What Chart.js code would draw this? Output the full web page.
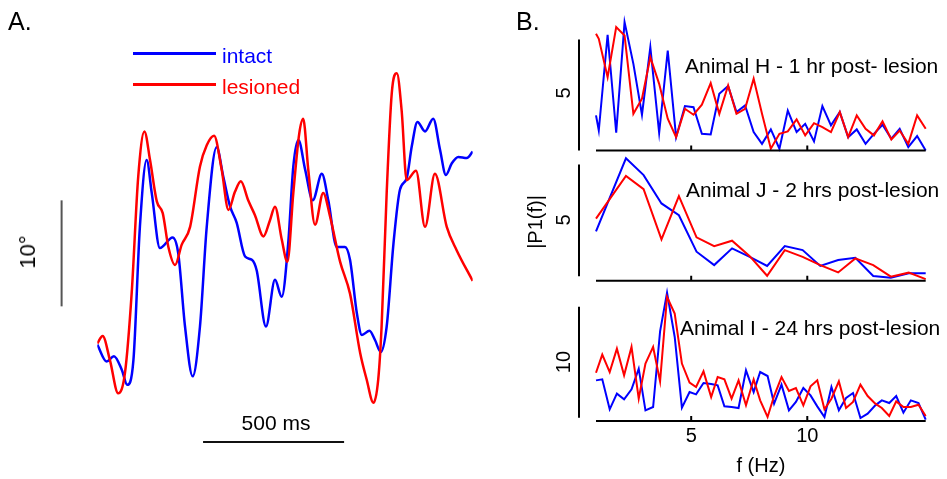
<!DOCTYPE html>
<html lang="en">
<head>
  <meta charset="UTF-8" />
  <title>Head angle traces and spectra</title>
  <script src="https://cdn.jsdelivr.net/npm/chart.js"></script>
  <style>
    body { margin: 0; background: #fff; font-family: "Liberation Sans", Arial, sans-serif; }
    #fig { position: relative; width: 947px; height: 479px; overflow: hidden; }
    #fig canvas { position: absolute; }
    .t { position: absolute; line-height: 1; white-space: nowrap; color: #000; }
    .c { transform: translate(-50%, -50%); }
    .l { transform: translateY(-50%); }
    .r { transform: translate(-50%, -50%) rotate(-90deg); }
    .key { position: absolute; height: 2.5px; width: 83px; left: 133px; }
  </style>
</head>
<body>
<div id="fig">
  <canvas id="traceA" width="500" height="479" style="left:0;top:0"></canvas>
  <canvas id="specH" width="447" height="160" style="left:500px;top:0"></canvas>
  <canvas id="specJ" width="447" height="140" style="left:500px;top:150px"></canvas>
  <canvas id="specI" width="447" height="199" style="left:500px;top:280px"></canvas>

  <!-- panel A annotations -->
  <div class="t l" style="left:8px;top:21px;font-size:25px">A.</div>
  <div class="key" style="top:52px;background:#0000ff"></div>
  <div class="key" style="top:83px;background:#ff0000"></div>
  <div class="t l" style="left:222px;top:55px;font-size:21px;color:#0000ff">intact</div>
  <div class="t l" style="left:222px;top:86px;font-size:21px;color:#ff0000">lesioned</div>
  <div class="t r" style="left:28px;top:252px;font-size:22px">10°</div>
  <div class="t c" style="left:276px;top:422px;font-size:21px">500 ms</div>

  <!-- panel B annotations -->
  <div class="t l" style="left:516px;top:21px;font-size:25px">B.</div>
  <div class="t r" style="left:535px;top:222px;font-size:20px">|P1(f)|</div>
  <div class="t r" style="left:563px;top:93px;font-size:20px">5</div>
  <div class="t r" style="left:563px;top:220px;font-size:20px">5</div>
  <div class="t r" style="left:563px;top:362px;font-size:20px">10</div>
  <div class="t l" style="left:685px;top:65px;font-size:21px">Animal H - 1 hr post- lesion</div>
  <div class="t l" style="left:686px;top:189px;font-size:21px">Animal J - 2 hrs post-lesion</div>
  <div class="t l" style="left:680px;top:327px;font-size:21px">Animal I - 24 hrs post-lesion</div>
</div>

<script>
  // ---- panel A: head angle traces (time in ms, angle in degrees) ----
  const intactT = [0,33,59,87,106,128,151,175,193,222,267,287,311,338,364,388,423,447,471,494,524,548,565,598,630,654,677,695,713,737,764,796,819,849,878,896,920,938,965,985,1005,1026,1050,1073,1097,1115,1135,1162,1191,1215,1236,1257,1280,1310,1331];
  const intactDeg = [-4.2,-5.8,-5.3,-6.6,-8.0,-5.7,6.9,13.2,10.1,4.9,5.9,4.4,-2.5,-7.2,-2.5,6.9,14.4,11.6,8.8,7.3,4.1,3.8,2.8,-2.5,1.9,0.3,5.4,12.6,15.1,12.3,9.4,11.9,9.4,5.0,5.0,3.8,-1.2,-3.3,-2.9,-3.8,-4.9,-2.5,5.3,10.4,11.5,14.5,16.8,15.9,17.1,14.2,11.8,12.9,13.5,13.4,14.0];
  const lesionedT = [0,19,45,74,98,122,145,167,187,211,232,252,276,299,329,364,388,414,441,465,488,509,535,559,589,612,630,654,674,695,716,730,748,772,801,825,861,896,932,955,979,996,1008,1026,1044,1062,1079,1097,1130,1162,1197,1239,1274,1331];
  const lesionedDeg = [-4.1,-3.4,-5.7,-8.8,-6.9,0.7,11.6,15.9,13.2,9.3,8.2,5.0,3.3,5.2,6.9,12.6,14.6,15.5,12.3,8.5,10.2,11.2,9.4,8.0,6.0,7.5,8.8,5.7,3.6,10.1,15.7,17.1,12.3,7.1,10.1,7.9,3.6,0.6,-5.0,-7.5,-9.7,-7.5,-2.5,10.1,19.5,21.4,17.9,11.3,12.2,6.9,11.9,6.9,4.7,1.8];

  // ---- panel B: single-sided amplitude spectra ----
  const freqTicks = [5, 10];

  const fH = [0.9,1.02,1.40,1.77,2.13,2.51,2.88,3.24,3.62,3.99,4.35,4.73,5.10,5.46,5.84,6.21,6.59,6.95,7.32,7.69,8.05,8.43,8.80,9.16,9.54,9.91,10.29,10.65,11.02,11.40,11.76,12.13,12.51,12.87,13.24,13.62,13.98,14.35,14.73,15.10];
  const hIntact = [1.58,0.90,5.21,0.80,5.78,3.90,1.61,4.65,0.80,4.50,0.60,2.00,1.95,0.75,0.72,2.55,2.90,1.73,2.03,0.83,0.30,0.95,0.08,1.80,0.83,1.20,0.41,2.00,1.13,1.73,0.60,0.95,0.30,0.75,1.16,0.53,0.98,0.15,0.65,0.00];
  const hLesioned = [5.26,5.03,3.30,5.56,5.18,1.65,2.33,4.20,3.00,1.43,0.60,1.88,1.61,2.06,3.03,1.65,2.93,1.65,1.88,3.23,1.65,0.08,0.75,0.86,1.40,0.68,1.23,1.05,0.83,1.73,0.60,1.58,0.98,0.68,1.31,0.50,0.90,0.30,1.58,0.98];

  const fJ = [0.9,2.19,2.95,3.72,4.47,5.23,5.99,6.76,7.52,8.27,9.03,9.80,10.56,11.33,12.07,12.84,13.60,14.37,15.10];
  const jIntact = [2.21,5.48,4.73,3.46,2.93,1.30,0.70,1.45,1.07,0.66,1.55,1.37,0.66,0.93,1.03,0.21,0.13,0.33,0.33];
  const jLesioned = [2.78,4.69,4.10,1.85,3.79,1.94,1.55,1.79,1.10,0.22,1.37,1.07,0.70,0.37,1.00,0.70,0.18,0.36,0.07];

  const fI = [0.9,1.17,1.49,1.80,2.11,2.43,2.74,3.03,3.36,3.66,3.96,4.29,4.60,4.93,5.21,5.53,5.86,6.14,6.43,6.74,7.04,7.36,7.69,7.97,8.29,8.57,8.89,9.21,9.51,9.83,10.14,10.43,10.74,11.04,11.36,11.67,11.97,12.29,12.60,12.93,13.21,13.53,13.83,14.14,14.46,14.79,15.10];
  const iIntact = [3.66,3.75,1.05,2.46,1.95,2.85,4.71,0.96,1.26,8.08,11.56,7.57,1.20,2.61,2.40,3.42,3.33,3.21,1.32,1.26,1.17,4.56,2.61,4.41,4.05,1.56,3.27,0.96,1.71,2.97,2.31,1.32,0.36,3.06,0.96,2.07,2.52,0.27,0.66,1.41,1.86,1.62,2.25,0.75,1.86,1.62,0.12];
  const iLesioned = [4.35,5.98,4.41,6.52,4.11,6.67,2.01,5.17,6.67,3.57,11.17,9.67,5.17,3.45,3.06,4.47,2.16,3.96,3.75,2.01,3.66,1.41,3.75,1.86,0.36,2.25,3.96,2.70,2.97,1.41,3.12,3.66,1.05,2.01,3.57,1.17,1.71,3.27,2.25,1.56,1.17,0.45,1.77,1.26,1.26,1.47,0.45];

  const BLUE = '#0000ff', RED = '#ff0000';
  const FONT = '"Liberation Sans", Arial, sans-serif';
  const pts = (xs, ys) => xs.map((x, i) => ({ x: x, y: ys[i] }));

  // scale bars for the trace panel (drawn in data units)
  const traceBars = {
    id: 'traceBars',
    afterDraw(chart, args, o) {
      const { ctx, scales: { x, y } } = chart;
      ctx.save();
      ctx.lineWidth = 2;
      // 10 degree bar
      ctx.strokeStyle = '#555';
      ctx.beginPath();
      ctx.moveTo(o.degBarX, y.getPixelForValue(o.degBarFrom));
      ctx.lineTo(o.degBarX, y.getPixelForValue(o.degBarFrom + o.degBar));
      ctx.stroke();
      // 500 ms bar
      ctx.strokeStyle = '#111';
      ctx.beginPath();
      ctx.moveTo(x.getPixelForValue(o.msBarFrom), y.getPixelForValue(o.msBarY));
      ctx.lineTo(x.getPixelForValue(o.msBarFrom + o.msBar), y.getPixelForValue(o.msBarY));
      ctx.stroke();
      ctx.restore();
    }
  };

  new Chart(document.getElementById('traceA'), {
    type: 'line',
    data: {
      datasets: [
        { label: 'intact', data: pts(intactT, intactDeg), borderColor: BLUE, borderWidth: 2.5,
          pointRadius: 0, cubicInterpolationMode: 'monotone', order: 2 },
        { label: 'lesioned', data: pts(lesionedT, lesionedDeg), borderColor: RED, borderWidth: 2.5,
          pointRadius: 0, cubicInterpolationMode: 'monotone', order: 1 }
      ]
    },
    options: {
      responsive: false,
      animation: false,
      layout: { padding: { left: 97.3, right: 27.3, top: 60, bottom: 59 } },
      scales: {
        x: { type: 'linear', display: false, min: 0, max: 1331 },
        y: { display: false, min: -11.32, max: 22.64 }
      },
      plugins: {
        legend: { display: false },
        tooltip: { enabled: false },
        traceBars: { degBarX: 61.6, degBarFrom: -0.6, degBar: 10, msBarFrom: 375, msBar: 500, msBarY: -13.4 }
      }
    },
    plugins: [traceBars]
  });

  // axis line with inward ticks plus the vertical scale bar of each spectrum
  const specAxes = {
    id: 'specAxes',
    afterDraw(chart, args, o) {
      const { ctx, chartArea: a, scales: { x, y } } = chart;
      const y0 = y.getPixelForValue(0);
      ctx.save();
      ctx.strokeStyle = '#000';
      ctx.lineWidth = 2;
      ctx.beginPath();
      ctx.moveTo(a.left, y0);
      ctx.lineTo(a.right, y0);
      freqTicks.forEach(v => {
        const px = x.getPixelForValue(v);
        ctx.moveTo(px, y0);
        ctx.lineTo(px, y0 - 5);
      });
      const bx = a.left - 17;
      ctx.moveTo(bx, y.getPixelForValue(o.bar[0]));
      ctx.lineTo(bx, y.getPixelForValue(o.bar[1]));
      ctx.stroke();
      ctx.restore();
    }
  };

  function spectrum(id, freqs, intact, lesioned, ymax, bar, pad, showX) {
    return new Chart(document.getElementById(id), {
      type: 'line',
      data: {
        datasets: [
          { label: 'intact', data: pts(freqs, intact), borderColor: BLUE, borderWidth: 2,
            pointRadius: 0, tension: 0, clip: 3, order: 2 },
          { label: 'lesioned', data: pts(freqs, lesioned), borderColor: RED, borderWidth: 2,
            pointRadius: 0, tension: 0, clip: 3, order: 1 }
        ]
      },
      options: {
        responsive: false,
        animation: false,
        layout: { padding: pad },
        scales: {
          x: {
            type: 'linear', min: 0.9, max: 15.1, display: showX,
            border: { display: false },
            grid: { display: false, drawTicks: false },
            afterBuildTicks: s => { s.ticks = freqTicks.map(v => ({ value: v })); },
            ticks: { color: '#000', font: { family: FONT, size: 20 }, padding: 3, maxRotation: 0, autoSkip: false },
            title: { display: true, text: 'f (Hz)', color: '#000', font: { family: FONT, size: 20 },
                     padding: { top: 3, bottom: 0 } }
          },
          y: { display: false, min: 0, max: ymax }
        },
        plugins: {
          legend: { display: false },
          tooltip: { enabled: false },
          specAxes: { bar: bar }
        }
      },
      plugins: [specAxes]
    });
  }

  spectrum('specH', fH, hIntact, hLesioned, 6.10, [0, 5], { left: 96, right: 21.3, top: 15, bottom: 9.5 }, false);
  spectrum('specJ', fJ, jIntact, jLesioned, 5.63, [0.2, 5.2], { left: 96, right: 21.3, top: 5, bottom: 9.3 }, false);
  spectrum('specI', fI, iIntact, iLesioned, 11.8, [0.3, 10.3], { left: 96, right: 21.3, top: 10, bottom: 1 }, true);
</script>
</body>
</html>
